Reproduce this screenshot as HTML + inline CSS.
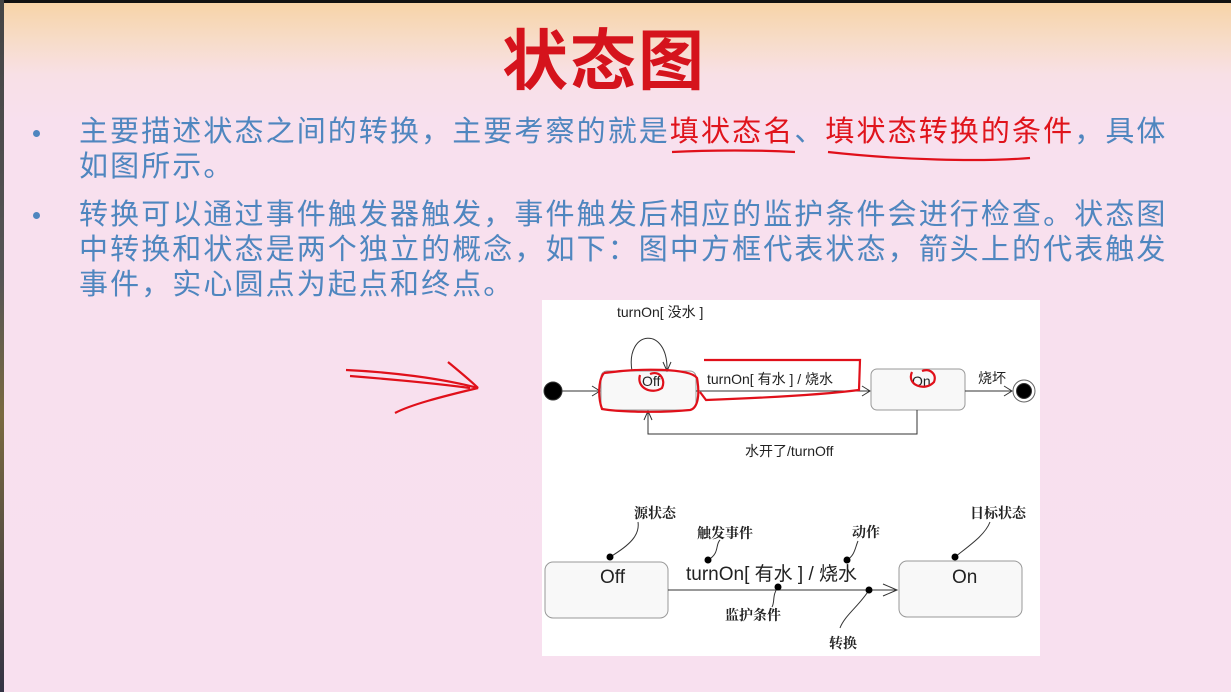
<!DOCTYPE html>
<html><head><meta charset="utf-8"><style>
html,body{margin:0;padding:0;}
body{width:1231px;height:692px;overflow:hidden;position:relative;background:linear-gradient(to bottom,#f7d3a5 0px,#f7dcc8 40px,#f8e0e6 75px,#f8e0ee 120px,#f8e0ef 692px);font-family:"Liberation Sans","Noto Sans CJK SC",sans-serif;}
.topbar{position:absolute;left:0;top:0;width:1231px;height:3px;background:#111;}
.left{position:absolute;left:0;top:0;width:4px;height:692px;background:linear-gradient(#444,#555 40%,#7a6a40 60%,#334 100%);}
.title{position:absolute;left:502px;top:8px;font-size:66px;color:#d5131c;font-family:"Noto Sans CJK SC",sans-serif;font-weight:bold;letter-spacing:2px;}
.p{position:absolute;left:79px;font-size:29px;color:#4f86bf;letter-spacing:2.1px;line-height:35px;font-family:"Liberation Sans","Noto Sans CJK SC",sans-serif;white-space:nowrap;}
.b{position:absolute;left:33px;width:7px;height:7px;border-radius:50%;background:#4f86bf;}
.r{color:#e0141c;}
</style></head><body>
<div class="topbar"></div><div class="left"></div>
<div class="title">状态图</div>
<div class="b" style="top:130px"></div>
<div class="p" style="top:115px">主要描述状态之间的转换，主要考察的就是<span class="r">填状态名</span>、<span class="r">填状态转换的条件</span>，具体<br>如图所示。</div>
<div class="b" style="top:212px"></div>
<div class="p" style="top:198px">转换可以通过事件触发器触发，事件触发后相应的监护条件会进行检查。状态图<br>中转换和状态是两个独立的概念，如下：图中方框代表状态，箭头上的代表触发<br>事件，实心圆点为起点和终点。</div>
<svg style="position:absolute;left:0;top:0" width="1231" height="692" font-family="Liberation Sans,Noto Sans CJK SC,sans-serif">
<rect x="542" y="300" width="498" height="356" fill="#fff"/>
<g stroke="#333" stroke-width="1" fill="none">
<circle cx="553" cy="391" r="9" fill="#000"/>
<line x1="562" y1="391" x2="600" y2="391"/><path d="M592,386 L600,391 L592,396"/>
<rect x="601" y="371" width="95" height="39" rx="6" fill="#f8f8f8" stroke="#999"/>
<path d="M632,371 C625,330 668,325 667,370"/><path d="M663,362 L667,371 L671,362"/>
<line x1="696" y1="391" x2="870" y2="391"/><path d="M862,386 L870,391 L862,396"/>
<rect x="871" y="369" width="94" height="41" rx="6" fill="#f8f8f8" stroke="#999"/>
<line x1="965" y1="391" x2="1012" y2="391"/><path d="M1004,386 L1012,391 L1004,396"/>
<circle cx="1024" cy="391" r="11" fill="#fff" stroke="#666"/><circle cx="1024" cy="391" r="7.5" fill="#000"/>
<path d="M917,410 L917,434 L648,434 L648,412"/><path d="M644,420 L648,411 L652,420"/>
<rect x="545" y="562" width="123" height="56" rx="8" fill="#f8f8f8" stroke="#999"/>
<rect x="899" y="561" width="123" height="56" rx="8" fill="#f8f8f8" stroke="#999"/>
<line x1="668" y1="590" x2="897" y2="590"/><path d="M883,584 L897,590 L883,596"/>
<path d="M610,557 C630,545 640,535 638,522"/><path d="M708,560 C720,553 715,545 720,540"/><path d="M847,560 C855,555 855,548 858,541"/><path d="M955,557 C970,545 985,535 990,522"/><path d="M778,587 C772,595 775,602 772,607"/><path d="M869,590 C860,605 845,615 840,628"/>
</g>
<g fill="#000"><circle cx="610" cy="557" r="3.5"/><circle cx="708" cy="560" r="3.5"/><circle cx="847" cy="560" r="3.5"/><circle cx="955" cy="557" r="3.5"/><circle cx="778" cy="587" r="3.5"/><circle cx="869" cy="590" r="3.5"/></g>
<g fill="#222" font-size="14">
<text x="617" y="317">turnOn[ 没水 ]</text>
<text x="642" y="386">Off</text>
<text x="707" y="384">turnOn[ 有水 ] / 烧水</text>
<text x="912" y="386">On</text>
<text x="978" y="383">烧坏</text>
<text x="745" y="456">水开了/turnOff</text>
</g>
<g fill="#222" font-size="14" font-family="Noto Serif CJK SC,serif" font-weight="bold">
<text x="634" y="518">源状态</text><text x="697" y="538">触发事件</text><text x="852" y="537">动作</text><text x="970" y="518">日标状态</text><text x="725" y="620">监护条件</text><text x="829" y="648">转换</text>
</g>
<g fill="#222" font-size="19"><text x="600" y="583">Off</text><text x="952" y="583">On</text><text x="686" y="580">turnOn[ 有水 ] / 烧水</text></g>
<g stroke="#e0101a" stroke-width="2.2" fill="none">
<path d="M604,373 C640,368 690,368 697,378 C700,395 698,408 690,410 C660,413 620,412 602,409 C598,398 598,380 604,373"/>
<path d="M640,375 C636,388 652,395 662,388 C666,380 660,370 650,374"/>
<path d="M704,360 L860,360 L859,390 C820,395 760,398 706,400 L700,392"/>
<path d="M912,372 C906,385 925,392 934,382 C937,374 930,368 922,371"/>
<path d="M346,370 C390,372 440,378 478,388 C440,397 410,405 395,413"/>
<path d="M350,376 C400,380 440,384 470,388"/>
<path d="M448,362 C460,372 470,380 478,388"/>
<path d="M672,152 C710,150 760,150 795,152"/><path d="M828,152 C900,160 980,162 1030,158"/>
</g>
</svg>
</body></html>
